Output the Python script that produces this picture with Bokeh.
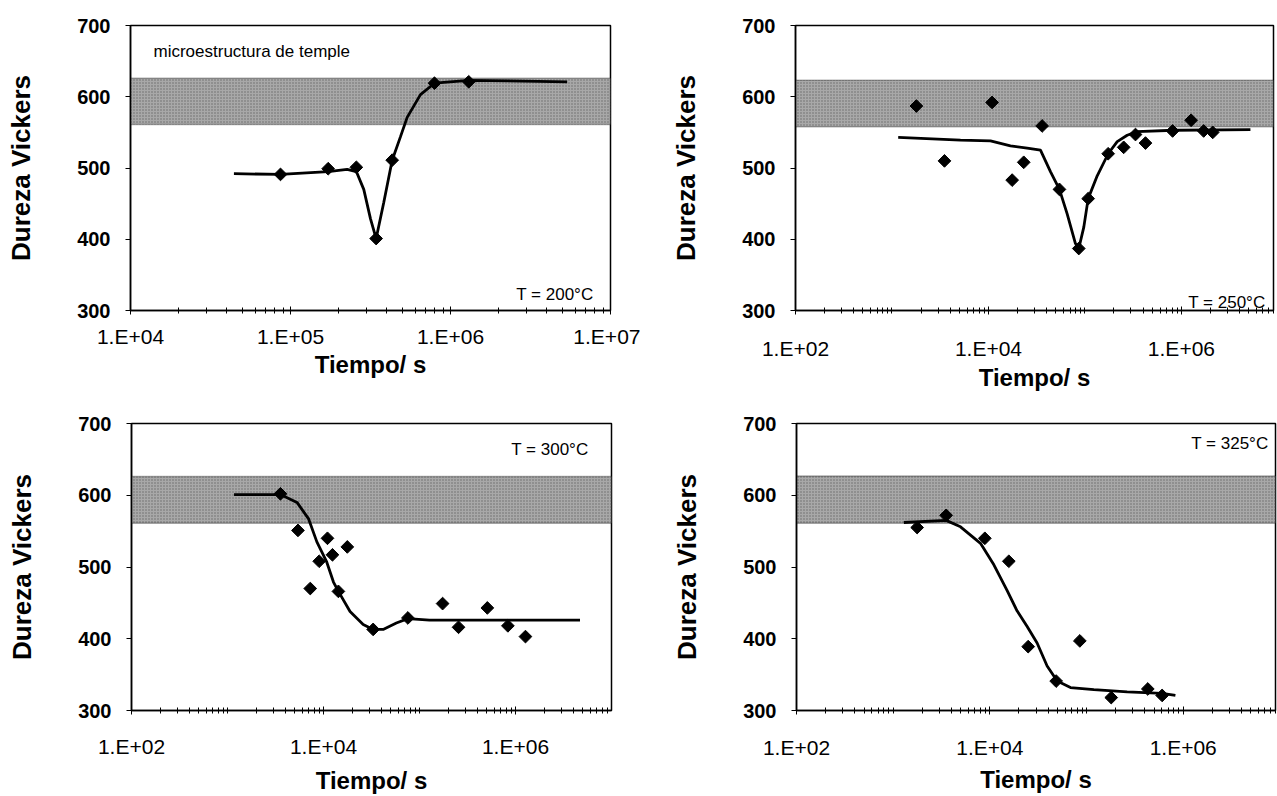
import math
from bokeh.plotting import figure
from bokeh.models import Range1d, FixedTicker, BoxAnnotation, Label
from bokeh.layouts import column, row
from bokeh.embed import file_html
from bokeh.resources import INLINE

# ---------------- data ----------------
# T = 200 °C
t200_pts_x = [8.66e4, 1.72e5, 2.58e5, 3.43e5, 4.32e5, 7.94e5, 1.30e6]
t200_pts_y = [491, 499, 501, 401, 511, 619, 621]
t200_fit_x = [4.43e4, 8.66e4, 1.72e5, 2.26e5, 2.58e5, 2.87e5, 3.16e5, 3.43e5,
              3.83e5, 4.32e5, 4.87e5, 5.36e5, 6.49e5, 7.94e5, 1.30e6, 5.36e6]
t200_fit_y = [492, 491, 495, 498, 495, 470, 429, 401,
              452, 511, 544, 571, 603, 619, 623, 621]

# T = 250 °C
t250_pts_x = [1.79e3, 3.5e3, 1.09e4, 1.76e4, 2.32e4, 3.6e4, 5.44e4, 8.63e4, 1.08e5,
              1.74e5, 2.52e5, 3.34e5, 4.24e5, 8.1e5, 1.26e6, 1.7e6, 2.11e6]
t250_pts_y = [587, 510, 592, 483, 508, 559, 470, 387, 457,
              520, 529, 547, 535, 552, 567, 552, 550]
t250_fit_x = [1.16e3, 5.13e3, 1.05e4, 1.69e4, 2.52e4, 3.46e4, 4.39e4, 5.44e4, 6.53e4, 7.97e4,
              8.63e4, 9.73e4, 1.08e5, 1.34e5, 1.74e5, 2.16e5, 2.74e5, 3.47e5, 8.32e5, 5.19e6]
t250_fit_y = [543, 539, 538, 531, 528, 525, 495, 470, 436, 394,
              387, 417, 457, 489, 520, 537, 546, 551, 553, 554]

# T = 300 °C
t300_pts_x = [3.56e3, 5.42e3, 7.28e3, 9.02e3, 1.10e4, 1.24e4, 1.43e4, 1.77e4,
              3.29e4, 7.57e4, 1.74e5, 2.55e5, 5.09e5, 8.33e5, 1.27e6]
t300_pts_y = [602, 551, 470, 508, 540, 517, 466, 528,
              413, 429, 449, 416, 443, 418, 403]
t300_fit_x = [1.17e3, 3.56e3, 5.30e3, 7.00e3, 8.53e3, 1.08e4, 1.27e4, 1.43e4, 1.89e4,
              2.59e4, 3.29e4, 4.18e4, 5.74e4, 7.57e4, 1.27e5, 2.81e5, 4.7e6]
t300_fit_y = [601, 601, 590, 567, 535, 507, 479, 466, 438,
              420, 413, 413, 422, 428, 426, 426, 426]

# T = 325 °C
t325_pts_x = [1.77e3, 3.53e3, 8.87e3, 1.57e4, 2.49e4, 4.85e4, 8.52e4, 1.80e5, 4.30e5, 6.05e5]
t325_pts_y = [555, 572, 540, 508, 389, 341, 397, 318, 330, 321]
t325_fit_x = [1.29e3, 3.53e3, 4.97e3, 8.0e3, 1.10e4, 1.51e4, 1.91e4, 2.43e4,
              3.08e4, 3.91e4, 4.97e4, 6.82e4, 1.19e5, 2.63e5, 6.05e5, 8.3e5]
t325_fit_y = [562, 565, 556, 533, 503, 467, 439, 417,
              394, 362, 341, 332, 329, 326, 324, 321]

# quench-microstructure hardness band (low, high) for each panel
band_low = [561, 558, 561, 561]
band_high = [626, 623, 626, 627]

temp_labels = ["T = 200°C", "T = 250°C", "T = 300°C", "T = 325°C"]
band_text = "microestructura de temple"

y_ticks = [300, 400, 500, 600, 700]
x_ticks_a = [1e4, 1e5, 1e6, 1e7]
x_labels_a = ["1.E+04", "1.E+05", "1.E+06", "1.E+07"]
x_ticks_b = [1e2, 1e4, 1e6]
x_labels_b = ["1.E+02", "1.E+04", "1.E+06"]

y_title = "Dureza Vickers"
x_title = "Tiempo/ s"

FONT = "Liberation Sans"


def minor_ticks(lo_exp, hi_exp):
    out = []
    for e in range(lo_exp, hi_exp):
        for m in range(1, 10):
            out.append(m * 10.0 ** e)
    return out


def panel(fit_x, fit_y, pts_x, pts_y, xr, majors, labels, band_lo, band_hi,
          width, height, borders, xtick_standoff, xlab_standoff):
    left, right, top, bottom = borders
    p = figure(width=width, height=height, x_axis_type="log",
               x_range=Range1d(*xr), y_range=Range1d(300, 700),
               output_backend="svg", toolbar_location=None,
               min_border_left=left, min_border_right=right,
               min_border_top=top, min_border_bottom=bottom,
               background_fill_color="white", border_fill_color="white")
    p.grid.visible = False
    p.outline_line_color = "black"
    p.outline_line_width = 1.5

    band = BoxAnnotation(bottom=band_lo, top=band_hi, fill_color="#a8a8a8", fill_alpha=1.0,
                         hatch_pattern=".", hatch_color="#5a5a5a", hatch_scale=3,
                         hatch_weight=1.0, hatch_alpha=0.8,
                         line_color="black", line_width=1.5, level="underlay")
    p.add_layout(band)

    p.line(fit_x, fit_y, line_color="black", line_width=2.8)
    p.scatter(pts_x, pts_y, marker="square", angle=math.pi / 4, size=9,
              fill_color="black", line_color="black")

    # x axis
    xa = p.xaxis[0]
    xa.ticker = FixedTicker(ticks=majors,
                            minor_ticks=minor_ticks(int(round(math.log10(xr[0]))), 7))
    xa.major_label_overrides = dict(zip(majors, labels))
    xa.major_tick_in = 4
    xa.major_tick_out = 4
    xa.minor_tick_in = 3
    xa.minor_tick_out = 3
    xa.axis_line_width = 1.5
    xa.major_label_text_font = FONT
    xa.major_label_text_font_size = "21px"
    xa.major_label_text_color = "black"
    xa.major_label_standoff = xtick_standoff
    xa.axis_label = x_title
    xa.axis_label_text_font = FONT
    xa.axis_label_text_font_size = "24px"
    xa.axis_label_text_font_style = "bold"
    xa.axis_label_text_color = "black"
    xa.axis_label_standoff = xlab_standoff

    # y axis
    ya = p.yaxis[0]
    ya.ticker = FixedTicker(ticks=y_ticks)
    ya.major_tick_in = 0
    ya.major_tick_out = 5
    ya.minor_tick_in = 0
    ya.minor_tick_out = 0
    ya.axis_line_width = 1.5
    ya.major_label_text_font = FONT
    ya.major_label_text_font_size = "20px"
    ya.major_label_text_font_style = "bold"
    ya.major_label_text_color = "black"
    ya.major_label_standoff = 15
    ya.axis_label = y_title
    ya.axis_label_text_font = FONT
    ya.axis_label_text_font_size = "26px"
    ya.axis_label_text_font_style = "bold"
    ya.axis_label_text_color = "black"
    ya.axis_label_standoff = 38
    return p


def add_label(p, text, x, y, xo, yo, align, baseline, size="17px"):
    p.add_layout(Label(x=x, y=y, x_offset=xo, y_offset=yo, text=text,
                       text_align=align, text_baseline=baseline,
                       text_font=FONT, text_font_size=size, text_color="black"))


XR_A = (1e4, 1e7)
XR_B1 = (1e2, 1e7)
XR_B2 = (1e2, 9e6)

p1 = panel(t200_fit_x, t200_fit_y, t200_pts_x, t200_pts_y, XR_A, x_ticks_a, x_labels_a,
           band_low[0], band_high[0], 640, 400, (130, 30, 20, 90), 10, 0)
add_label(p1, temp_labels[0], XR_A[1], 300, -17, 16, "right", "alphabetic")
add_label(p1, band_text, XR_A[0], 700, 23, -16, "left", "top")

p2 = panel(t250_fit_x, t250_fit_y, t250_pts_x, t250_pts_y, XR_B2, x_ticks_b, x_labels_b,
           band_low[1], band_high[1], 637, 400, (155, 4, 25, 85), 22, 1)
add_label(p2, temp_labels[1], XR_B2[1], 300, -8, 8, "right", "alphabetic")

p3 = panel(t300_fit_x, t300_fit_y, t300_pts_x, t300_pts_y, XR_B1, x_ticks_b, x_labels_b,
           band_low[2], band_high[2], 640, 396, (131, 29, 23, 83), 20, 6)
add_label(p3, temp_labels[2], XR_B1[1], 700, -23, -16, "right", "top")

p4 = panel(t325_fit_x, t325_fit_y, t325_pts_x, t325_pts_y, XR_B2, x_ticks_b, x_labels_b,
           band_low[3], band_high[3], 637, 396, (156, 2, 20, 84), 21, 4)
add_label(p4, temp_labels[3], XR_B2[1], 700, -7, -10, "right", "top")

layout = column(row(p1, p2), row(p3, p4))

open("out.html", "w").write(file_html(layout, INLINE))
